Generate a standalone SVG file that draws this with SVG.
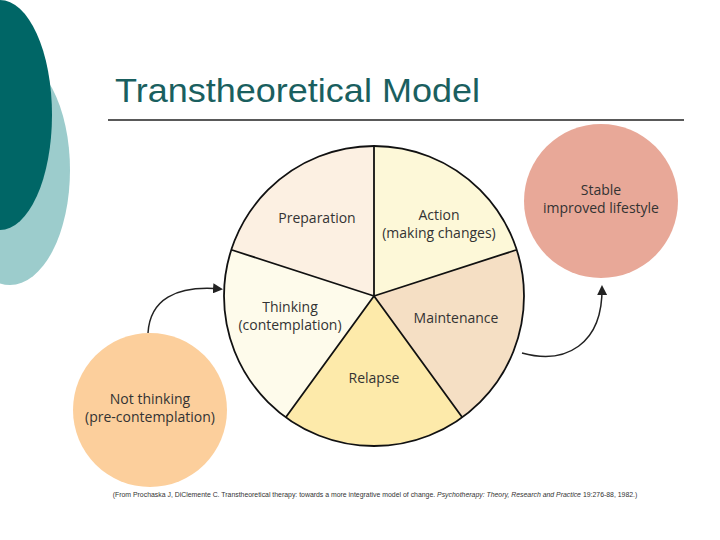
<svg xmlns="http://www.w3.org/2000/svg" width="720" height="540" viewBox="0 0 720 540">
<style>
.lbl{font-family:"Open Sans","Liberation Sans",sans-serif;font-size:14px;fill:#333;text-anchor:middle}
.sp{stroke:#111;stroke-width:1.8;fill:none}
.con{stroke:#222;stroke-width:1.5;fill:none;marker-end:url(#ah)}
</style>
<defs><marker id="ah" markerWidth="10" markerHeight="10" refX="8" refY="5" orient="auto" markerUnits="userSpaceOnUse"><path d="M0,0 L10,5 L0,10 z" fill="#222"/></marker></defs>
<rect width="720" height="540" fill="#fff"/>
<ellipse cx="10" cy="170" rx="60" ry="115" fill="#9ccccc"/>
<ellipse cx="0" cy="115" rx="52" ry="115" fill="#006666"/>
<text x="115" y="102" font-family="Liberation Sans,Arial,sans-serif" font-size="33" fill="#1a5f5f" textLength="365" lengthAdjust="spacingAndGlyphs">Transtheoretical Model</text>
<line x1="108" y1="120" x2="684" y2="120" stroke="#222" stroke-width="1.5"/>
<g id="wheel">
<path d="M374,296 L374,146 A150,150 0 0 1 516,250 Z" fill="#fdf8d8"/>
<path d="M374,296 L516,250 A150,150 0 0 1 462,417 Z" fill="#f5dfc4"/>
<path d="M374,296 L462,417 A150,150 0 0 1 286,417 Z" fill="#fdeaaa"/>
<path d="M374,296 L286,417 A150,150 0 0 1 232,250 Z" fill="#fefbeb"/>
<path d="M374,296 L232,250 A150,150 0 0 1 374,146 Z" fill="#fcf0e2"/>
<circle cx="374" cy="296" r="150" class="sp"/>
<path d="M374,296 L374,146 M374,296 L516,250 M374,296 L462,417 M374,296 L286,417 M374,296 L232,250" class="sp"/>
<text x="317" y="223" class="lbl">Preparation</text>
<text x="439" y="220" class="lbl">Action</text>
<text x="439" y="238" class="lbl">(making changes)</text>
<text x="290" y="312" class="lbl">Thinking</text>
<text x="290" y="330" class="lbl">(contemplation)</text>
<text x="456" y="323" class="lbl">Maintenance</text>
<text x="374" y="383" class="lbl">Relapse</text>
</g>
<g id="notthinking"><circle cx="150" cy="410" r="77" fill="#fccf9c"/>
<text x="150" y="404" class="lbl">Not thinking</text><text x="150" y="422" class="lbl">(pre-contemplation)</text></g>
<g id="stable"><circle cx="601" cy="201" r="77" fill="#e8a898"/>
<text x="601" y="195" class="lbl">Stable</text><text x="601" y="213" class="lbl">improved lifestyle</text></g>
<g id="connectors">
<path d="M148,333 C150,300 175,285 221,289" class="con"/>
<path d="M522,353 C565,365 603,345 602,287" class="con"/>
</g>
<text x="375" y="497" font-family="Liberation Sans,Arial,sans-serif" font-size="6.9" fill="#333" text-anchor="middle">(From Prochaska J, DiClemente C. Transtheoretical therapy: towards a more integrative model of change. <tspan font-style="italic">Psychotherapy: Theory, Research and Practice</tspan> 19:276-88, 1982.)</text>
</svg>
